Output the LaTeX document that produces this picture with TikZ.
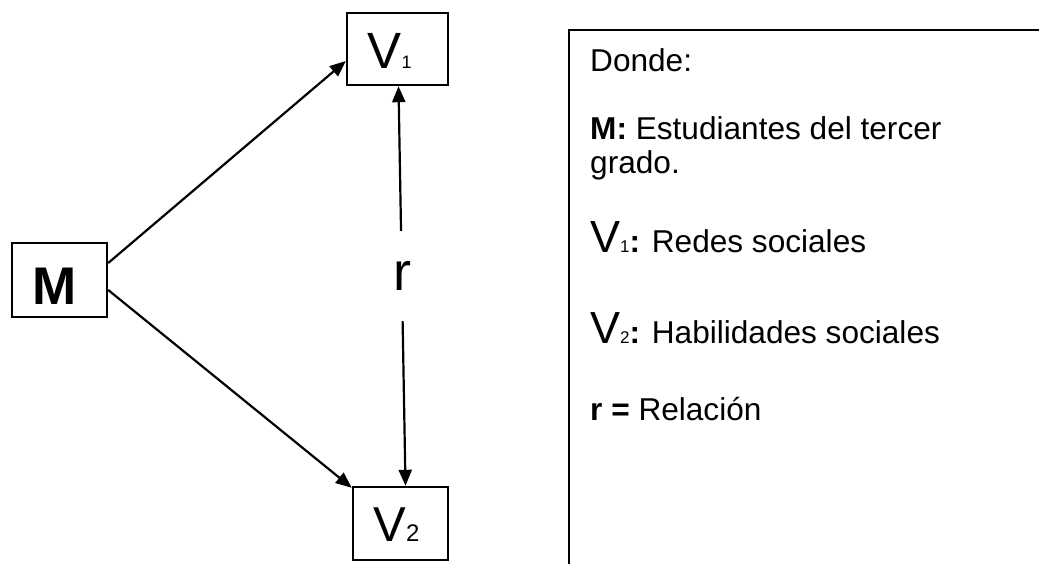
\documentclass[tikz,border=0pt]{standalone}
\usepackage{fontspec}
\setmainfont{Liberation Sans}
\usetikzlibrary{arrows.meta}
\newcommand{\fs}[1]{\fontsize{#1}{#1}\selectfont}
\begin{document}
\begin{tikzpicture}[x=1pt,y=-1pt,
  box/.style={draw, line width=2.4pt, inner sep=0pt},
  boxtext/.style={inner sep=0pt},
  txt/.style={inner sep=0pt, anchor=base west, font=\fs{31.6}},
  tip/.tip={Triangle[length=16pt,width=13pt]},
  arr/.style={line width=2.2pt, -tip},
  darr/.style={line width=2.2pt, tip-tip}]
\useasboundingbox (0,0) rectangle (1039,564);
% boxes
\node[box, minimum width=95pt, minimum height=74pt] (M) at (59.5,280) {};
\node[boxtext, font=\fs{53}\bfseries] (Mt) at ([xshift=-5pt,yshift=-6pt]M.center) {M};
\node[box, minimum width=101pt, minimum height=72pt] (V1) at (397.5,49) {};
\node[boxtext] (V1t) at ([xshift=-8pt,yshift=-2pt]V1.center) {{\fs{51}V}{\fs{18}1}};
\node[box, minimum width=95pt, minimum height=73pt] (V2) at (400.5,523.5) {};
\node[boxtext] (V2t) at ([xshift=-4pt,yshift=-1pt]V2.center) {{\fs{49}V}{\fs{24}2}};
% connectors
\draw[arr] ([yshift=17pt]M.east) -- ([yshift=-12pt]V1.west);
\draw[arr] ([yshift=-10pt]M.east) -- ([yshift=-2pt]V2.north west);
\draw[darr] ([xshift=1pt]V1.south) -- ([xshift=5pt]V2.north);
\node[fill=white, inner sep=0pt, minimum width=22pt, minimum height=90pt, font=\fs{54}] (r) at (402,276) {r};
% legend
\coordinate (lr) at (1039,30);
\coordinate (lc) at (569,30);
\coordinate (lb) at (569,564);
\draw[line width=2.4pt] (lr) -- (lc) -- (lb);
\node[txt] (donde) at (590,72) {Donde:};
\node[txt] (lm) at (590,140) {\textbf{M:} Estudiantes del tercer};
\node[txt] (lg) at (590,174) {grado.};
\node[txt] (lv1) at (590,253) {{\fs{45}V}{\fs{17}1}\textbf{:} Redes sociales};
\node[txt] (lv2) at (590,343) {{\fs{45}V}{\fs{17}2}\textbf{:} Habilidades sociales};
\node[txt] (lrel) at (590,420) {\textbf{r =} Relación};
\end{tikzpicture}
\end{document}
